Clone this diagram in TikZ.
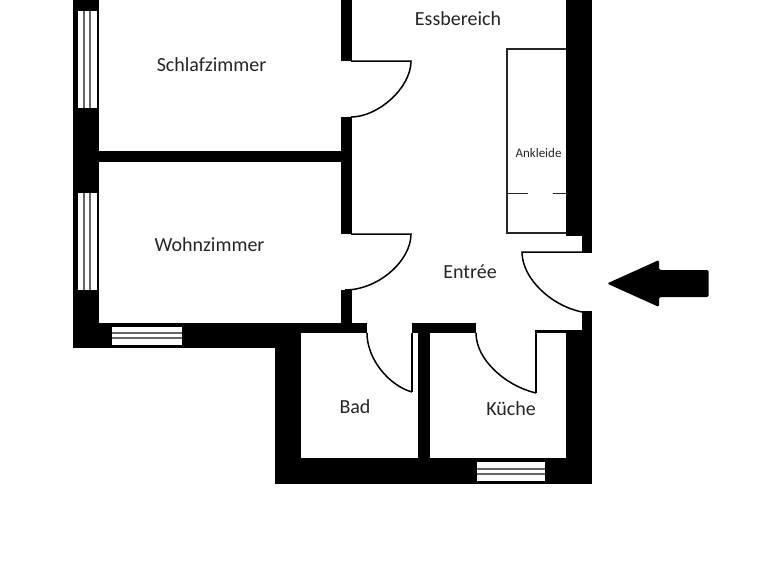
\documentclass[tikz,border=0pt]{standalone}
\usepackage{fontspec}
\setmainfont{Carlito}
\tikzset{
  wall/.style={fill=black, draw=none},
  pane/.style={fill=white, draw=none},
  paneline/.style={draw=black!60, line width=1.2pt},
  door/.style={draw=black, line width=1.5pt},
  thinline/.style={draw=black!85, line width=1.2pt},
  room/.style={text=black!85, font=\fontsize{20}{24}\selectfont, inner sep=0pt}
}

\begin{document}
\begin{tikzpicture}[x=1pt, y=-1pt]
  \useasboundingbox[fill=white] (0,0) rectangle (768,560);
  \fill[wall] (73,0) rectangle (99,348);
  \fill[wall] (99,151) rectangle (341,162);
  \fill[wall] (341,0) rectangle (352,61);
  \fill[wall] (341,117) rectangle (352,234);
  \fill[wall] (341,290) rectangle (352,323);
  \fill[wall] (99,323) rectangle (367,333);
  \fill[wall] (99,333) rectangle (301,348);
  \fill[wall] (275,348) rectangle (301,484);
  \fill[wall] (301,458) rectangle (592,484);
  \fill[wall] (418,333) rectangle (430,458);
  \fill[wall] (412,323) rectangle (476,333);
  \fill[wall] (566,0) rectangle (592,236);
  \fill[wall] (582,236) rectangle (592,253);
  \fill[wall] (582,311) rectangle (592,330);
  \fill[wall] (566,330) rectangle (592,458);
  \fill[wall] (535,330) rectangle (566,333);
  % windows
  \fill[pane] (77.5,11) rectangle (97,108);
  \draw[paneline] (84,11) -- (84,108);
  \draw[paneline] (90,11) -- (90,108);
  \fill[pane] (77.5,193) rectangle (97,290);
  \draw[paneline] (84,193) -- (84,290);
  \draw[paneline] (90,193) -- (90,290);
  \fill[pane] (112,327) rectangle (182,345);
  \draw[paneline] (112,333) -- (182,333);
  \draw[paneline] (112,338) -- (182,338);
  \fill[pane] (477,462) rectangle (545,481);
  \draw[paneline] (477,469) -- (545,469);
  \draw[paneline] (477,474) -- (545,474);
  % doors
  \draw[door] (351,61) -- (411,61) .. controls (411,88) and (378,117) .. (351,117);
  \draw[door] (351,234) -- (411,234) .. controls (411,261) and (378,290) .. (345,290);
  \draw[door] (412,333) -- (412,392);
  \draw[door] (367,333) .. controls (367,360) and (390,386) .. (412,392);
  \draw[door] (536,333) -- (536,393);
  \draw[door] (476,333) .. controls (476,360) and (506,386) .. (536,393);
  \draw[door] (582,252) -- (522,252) .. controls (522,279) and (552,306) .. (582,312);
  % closet
  \draw[thinline] (566,49) -- (507,49) -- (507,233) -- (566,233);
  \draw[thinline] (507,193.5) -- (527.5,193.5);
  \draw[thinline] (552.5,193.5) -- (566,193.5);
  % entrance arrow
  \fill[black, rounded corners=1.5pt] (607,283.5) -- (659,260) -- (659,270) -- (708.5,270)
    -- (708.5,297) -- (659,297) -- (659,307) -- cycle;
  \node[room] (schlafzimmer) at (211.5,65) {Schlafzimmer};
  \node[room] (wohnzimmer) at (209.5,244.5) {Wohnzimmer};
  \node[room] (essbereich) at (458,19) {Essbereich};
  \node[room] (entree) at (470,272) {Entrée};
  \node[room] (bad) at (355,407) {Bad};
  \node[room] (kueche) at (511,409) {Küche};
  \node[room, font=\fontsize{13}{15}\selectfont] (ankleide) at (538.5,153) {Ankleide};
\end{tikzpicture}
\end{document}
